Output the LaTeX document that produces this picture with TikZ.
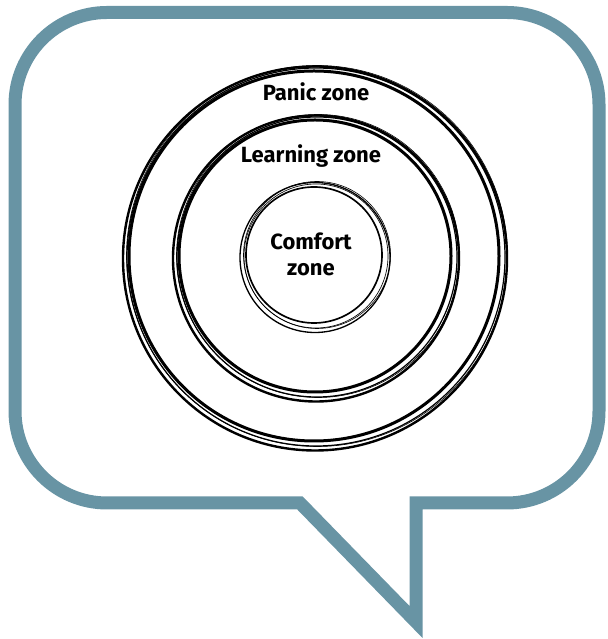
\documentclass[tikz,border=0pt]{standalone}
\usepackage{fontspec}
\setmainfont{Fira Sans}
\definecolor{bubblecol}{RGB}{104,148,164}
\tikzset{
  bubble/.style={draw=bubblecol, line width=13pt, line join=miter},
  zonelabel/.style={font=\fontsize{22}{26}\selectfont\bfseries, align=center, inner sep=0pt}
}
\begin{document}
\begin{tikzpicture}[x=1pt,y=1pt]
        \useasboundingbox (0,0) rectangle (607,639);

        % speech bubble with its tail
        \draw[bubble] (300,136) -- (416,17) -- (416,136) -- (507,136)
          arc[start angle=-90, end angle=0, radius=92] -- (599,534.5)
          arc[start angle=0, end angle=90, radius=92] -- (107,626.5)
          arc[start angle=90, end angle=180, radius=92] -- (15,228)
          arc[start angle=180, end angle=270, radius=92] -- cycle;

        % sketchy rings: centre x/centre y/radius/weight
        \foreach \cx/\cy/\r/\w in {315/382/189/1, 316/382/140/1, 315/383/72/0.55}
        {
          \draw[line width=3*\w pt] (\cx-1,\cy+1) circle(\r-4);
          \draw[line width=1.2*\w pt] (\cx+1,\cy) circle(\r);
          \draw[line width=2.4*\w pt] (\cx,\cy-1.5) circle(\r+3);
          \draw[line width=0.6pt] (\cx+2,\cy+1) circle(\r+1.5);
        }

        \node[zonelabel] (panic) at (316,547) {Panic zone};
        \node[zonelabel] (learning) at (311,483) {Learning zone};
        \node[zonelabel] (comfort) at (311,385) {Comfort\\zone};
\end{tikzpicture}
\end{document}
